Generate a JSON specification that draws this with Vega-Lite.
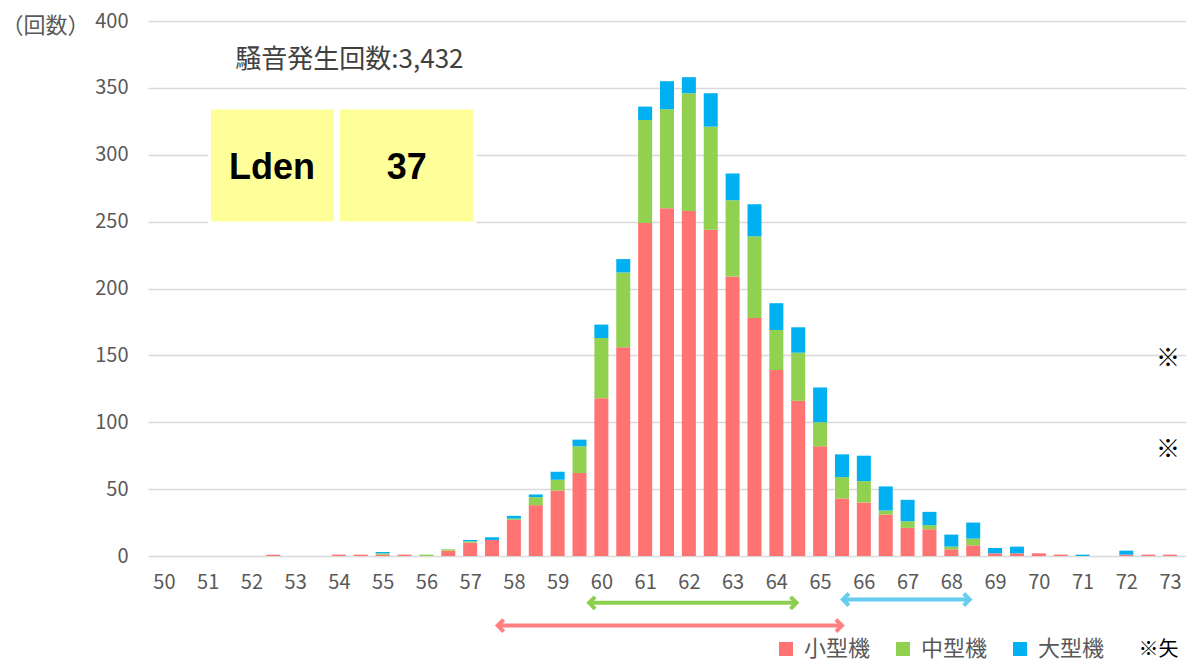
{
  "$schema": "https://vega.github.io/schema/vega-lite/v6.json",
  "width": 1038,
  "height": 535,
  "autosize": "none",
  "padding": {"left": 148, "top": 21, "right": 0, "bottom": 107},
  "background": "white",
  "config": {"view": {"stroke": null}, "font": "Noto Sans CJK JP"},
  "datasets": {
    "bars": [
      {"db": 52.5, "type": "小型機", "n": 1},
      {"db": 54, "type": "小型機", "n": 1},
      {"db": 54.5, "type": "小型機", "n": 1},
      {"db": 55, "type": "小型機", "n": 1},
      {"db": 55, "type": "中型機", "n": 1},
      {"db": 55, "type": "大型機", "n": 1},
      {"db": 55.5, "type": "小型機", "n": 1},
      {"db": 56, "type": "中型機", "n": 1},
      {"db": 56.5, "type": "小型機", "n": 4},
      {"db": 56.5, "type": "中型機", "n": 1},
      {"db": 57, "type": "小型機", "n": 10},
      {"db": 57, "type": "中型機", "n": 1},
      {"db": 57, "type": "大型機", "n": 1},
      {"db": 57.5, "type": "小型機", "n": 12},
      {"db": 57.5, "type": "大型機", "n": 2},
      {"db": 58, "type": "小型機", "n": 27},
      {"db": 58, "type": "中型機", "n": 1},
      {"db": 58, "type": "大型機", "n": 2},
      {"db": 58.5, "type": "小型機", "n": 38},
      {"db": 58.5, "type": "中型機", "n": 6},
      {"db": 58.5, "type": "大型機", "n": 2},
      {"db": 59, "type": "小型機", "n": 49},
      {"db": 59, "type": "中型機", "n": 8},
      {"db": 59, "type": "大型機", "n": 6},
      {"db": 59.5, "type": "小型機", "n": 62},
      {"db": 59.5, "type": "中型機", "n": 20},
      {"db": 59.5, "type": "大型機", "n": 5},
      {"db": 60, "type": "小型機", "n": 118},
      {"db": 60, "type": "中型機", "n": 45},
      {"db": 60, "type": "大型機", "n": 10},
      {"db": 60.5, "type": "小型機", "n": 156},
      {"db": 60.5, "type": "中型機", "n": 56},
      {"db": 60.5, "type": "大型機", "n": 10},
      {"db": 61, "type": "小型機", "n": 249},
      {"db": 61, "type": "中型機", "n": 77},
      {"db": 61, "type": "大型機", "n": 10},
      {"db": 61.5, "type": "小型機", "n": 260},
      {"db": 61.5, "type": "中型機", "n": 74},
      {"db": 61.5, "type": "大型機", "n": 21},
      {"db": 62, "type": "小型機", "n": 258},
      {"db": 62, "type": "中型機", "n": 88},
      {"db": 62, "type": "大型機", "n": 12},
      {"db": 62.5, "type": "小型機", "n": 244},
      {"db": 62.5, "type": "中型機", "n": 77},
      {"db": 62.5, "type": "大型機", "n": 25},
      {"db": 63, "type": "小型機", "n": 209},
      {"db": 63, "type": "中型機", "n": 57},
      {"db": 63, "type": "大型機", "n": 20},
      {"db": 63.5, "type": "小型機", "n": 178},
      {"db": 63.5, "type": "中型機", "n": 61},
      {"db": 63.5, "type": "大型機", "n": 24},
      {"db": 64, "type": "小型機", "n": 139},
      {"db": 64, "type": "中型機", "n": 30},
      {"db": 64, "type": "大型機", "n": 20},
      {"db": 64.5, "type": "小型機", "n": 116},
      {"db": 64.5, "type": "中型機", "n": 36},
      {"db": 64.5, "type": "大型機", "n": 19},
      {"db": 65, "type": "小型機", "n": 82},
      {"db": 65, "type": "中型機", "n": 18},
      {"db": 65, "type": "大型機", "n": 26},
      {"db": 65.5, "type": "小型機", "n": 43},
      {"db": 65.5, "type": "中型機", "n": 16},
      {"db": 65.5, "type": "大型機", "n": 17},
      {"db": 66, "type": "小型機", "n": 40},
      {"db": 66, "type": "中型機", "n": 16},
      {"db": 66, "type": "大型機", "n": 19},
      {"db": 66.5, "type": "小型機", "n": 31},
      {"db": 66.5, "type": "中型機", "n": 3},
      {"db": 66.5, "type": "大型機", "n": 18},
      {"db": 67, "type": "小型機", "n": 21},
      {"db": 67, "type": "中型機", "n": 5},
      {"db": 67, "type": "大型機", "n": 16},
      {"db": 67.5, "type": "小型機", "n": 20},
      {"db": 67.5, "type": "中型機", "n": 3},
      {"db": 67.5, "type": "大型機", "n": 10},
      {"db": 68, "type": "小型機", "n": 5},
      {"db": 68, "type": "中型機", "n": 2},
      {"db": 68, "type": "大型機", "n": 9},
      {"db": 68.5, "type": "小型機", "n": 8},
      {"db": 68.5, "type": "中型機", "n": 5},
      {"db": 68.5, "type": "大型機", "n": 12},
      {"db": 69, "type": "小型機", "n": 2},
      {"db": 69, "type": "大型機", "n": 4},
      {"db": 69.5, "type": "小型機", "n": 2},
      {"db": 69.5, "type": "大型機", "n": 5},
      {"db": 70, "type": "小型機", "n": 2},
      {"db": 70.5, "type": "小型機", "n": 1},
      {"db": 71, "type": "大型機", "n": 1},
      {"db": 72, "type": "小型機", "n": 1},
      {"db": 72, "type": "大型機", "n": 3},
      {"db": 72.5, "type": "小型機", "n": 1},
      {"db": 73, "type": "小型機", "n": 1}
    ],
    "typeOrder": [
      {"type": "小型機", "rank": 0},
      {"type": "中型機", "rank": 1},
      {"type": "大型機", "rank": 2}
    ],
    "boxes": [
      {"label": "Lden", "x1": 51.04, "x2": 53.92, "xc": 52.47, "y1": 249, "y2": 335, "yc": 290},
      {"label": "37", "x1": 53.99, "x2": 57.11, "xc": 55.55, "y1": 249, "y2": 335, "yc": 290}
    ]
  },
  "layer": [
    {
      "data": {"name": "bars"},
      "transform": [
        {"lookup": "type", "from": {"data": {"name": "typeOrder"}, "key": "type", "fields": ["rank"]}}
      ],
      "mark": {"type": "bar", "width": 14},
      "encoding": {
        "x": {
          "field": "db", "type": "quantitative",
          "scale": {"domain": [49.75, 73.25], "nice": false, "zero": false},
          "axis": {
            "values": [50,51,52,53,54,55,56,57,58,59,60,61,62,63,64,65,66,67,68,69,70,71,72,73],
            "format": "d", "title": null, "grid": false, "ticks": false, "domain": false,
            "labelFontSize": 20, "labelColor": "#595959", "labelPadding": 16, "labelFlush": false
          }
        },
        "y": {
          "field": "n", "type": "quantitative", "stack": "zero",
          "scale": {"domain": [0, 400], "nice": false},
          "axis": {
            "values": [0,50,100,150,200,250,300,350,400],
            "title": "（回数）", "titleAngle": 0, "titleX": -147, "titleY": 4,
            "titleAlign": "left", "titleBaseline": "middle", "titleFontWeight": "normal",
            "titleFontSize": 22, "titleColor": "#595959",
            "grid": true, "gridColor": "#D9D9D9", "gridWidth": 1.5,
            "ticks": false, "domain": false, "labelPadding": 20,
            "labelFontSize": 20, "labelColor": "#595959"
          }
        },
        "color": {
          "field": "type", "type": "nominal",
          "scale": {"domain": ["小型機", "中型機", "大型機"], "range": ["#FF7373", "#92D050", "#00B0F0"]},
          "legend": {
            "orient": "none", "legendX": 627, "legendY": 617, "direction": "horizontal",
            "title": null, "symbolType": "square", "symbolSize": 196, "symbolStrokeWidth": 0,
            "labelFontSize": 22, "labelColor": "#595959", "columnPadding": 21, "labelOffset": 7
          }
        },
        "order": {"field": "rank", "type": "quantitative", "sort": "ascending"}
      }
    },
    {
      "data": {"name": "boxes"},
      "mark": {"type": "rect", "fill": "#FFFF99", "stroke": "white", "strokeWidth": 3},
      "encoding": {
        "x": {"field": "x1", "type": "quantitative", "scale": {"domain": [49.75, 73.25], "nice": false, "zero": false}},
        "x2": {"field": "x2"},
        "y": {"field": "y1", "type": "quantitative", "scale": {"domain": [0, 400], "nice": false}},
        "y2": {"field": "y2"}
      }
    },
    {
      "data": {"name": "boxes"},
      "mark": {"type": "text", "font": "Liberation Sans", "fontWeight": "bold", "fontSize": 36, "color": "black", "align": "center", "baseline": "middle"},
      "encoding": {
        "x": {"field": "xc", "type": "quantitative", "scale": {"domain": [49.75, 73.25], "nice": false, "zero": false}},
        "y": {"field": "yc", "type": "quantitative", "scale": {"domain": [0, 400], "nice": false}},
        "text": {"field": "label"}
      }
    },
    {
      "data": {"values": [{"t": "騒音発生回数:3,432", "x": 54.24, "y": 370.8}]},
      "mark": {"type": "text", "fontSize": 26, "color": "#404040", "align": "center", "baseline": "middle"},
      "encoding": {
        "x": {"field": "x", "type": "quantitative", "scale": {"domain": [49.75, 73.25], "nice": false, "zero": false}},
        "y": {"field": "y", "type": "quantitative", "scale": {"domain": [0, 400], "nice": false}},
        "text": {"field": "t"}
      }
    },
    {
      "data": {"values": [{"t": "※", "x": 72.68, "y": 147.5}, {"t": "※", "x": 72.68, "y": 79.5}]},
      "mark": {"type": "text", "fontSize": 24, "color": "black", "align": "left", "baseline": "middle"},
      "encoding": {
        "x": {"field": "x", "type": "quantitative", "scale": {"domain": [49.75, 73.25], "nice": false, "zero": false}},
        "y": {"field": "y", "type": "quantitative", "scale": {"domain": [0, 400], "nice": false}},
        "text": {"field": "t"}
      }
    },
    {
      "data": {"values": [{"t": "※矢", "x": 72.28, "y": -70}]},
      "mark": {"type": "text", "fontSize": 20, "color": "black", "align": "left", "baseline": "middle"},
      "encoding": {
        "x": {"field": "x", "type": "quantitative", "scale": {"domain": [49.75, 73.25], "nice": false, "zero": false}},
        "y": {"field": "y", "type": "quantitative", "scale": {"domain": [0, 400], "nice": false}},
        "text": {"field": "t"}
      }
    },
    {
      "data": {"values": [{"from": 57.63, "to": 65.5, "y": -52}]},
      "layer": [
        {"mark": {"type": "rule", "color": "#FF8080", "strokeWidth": 4},
         "encoding": {
           "x": {"field": "from", "type": "quantitative", "scale": {"domain": [49.75, 73.25], "nice": false, "zero": false}},
           "x2": {"field": "to"},
           "y": {"field": "y", "type": "quantitative", "scale": {"domain": [0, 400], "nice": false}}
         }},
        {"mark": {"type": "point", "shape": "M1,-1L0,0L1,1", "size": 144, "filled": false, "stroke": "#FF8080", "strokeWidth": 4, "opacity": 1},
         "encoding": {
           "x": {"field": "from", "type": "quantitative", "scale": {"domain": [49.75, 73.25], "nice": false, "zero": false}},
           "y": {"field": "y", "type": "quantitative", "scale": {"domain": [0, 400], "nice": false}}
         }},
        {"mark": {"type": "point", "shape": "M1,-1L0,0L1,1", "angle": 180, "size": 144, "filled": false, "stroke": "#FF8080", "strokeWidth": 4, "opacity": 1},
         "encoding": {
           "x": {"field": "to", "type": "quantitative", "scale": {"domain": [49.75, 73.25], "nice": false, "zero": false}},
           "y": {"field": "y", "type": "quantitative", "scale": {"domain": [0, 400], "nice": false}}
         }}
      ]
    },
    {
      "data": {"values": [{"from": 59.72, "to": 64.46, "y": -35}]},
      "layer": [
        {"mark": {"type": "rule", "color": "#8CCF4E", "strokeWidth": 4},
         "encoding": {
           "x": {"field": "from", "type": "quantitative", "scale": {"domain": [49.75, 73.25], "nice": false, "zero": false}},
           "x2": {"field": "to"},
           "y": {"field": "y", "type": "quantitative", "scale": {"domain": [0, 400], "nice": false}}
         }},
        {"mark": {"type": "point", "shape": "M1,-1L0,0L1,1", "size": 144, "filled": false, "stroke": "#8CCF4E", "strokeWidth": 4, "opacity": 1},
         "encoding": {
           "x": {"field": "from", "type": "quantitative", "scale": {"domain": [49.75, 73.25], "nice": false, "zero": false}},
           "y": {"field": "y", "type": "quantitative", "scale": {"domain": [0, 400], "nice": false}}
         }},
        {"mark": {"type": "point", "shape": "M1,-1L0,0L1,1", "angle": 180, "size": 144, "filled": false, "stroke": "#8CCF4E", "strokeWidth": 4, "opacity": 1},
         "encoding": {
           "x": {"field": "to", "type": "quantitative", "scale": {"domain": [49.75, 73.25], "nice": false, "zero": false}},
           "y": {"field": "y", "type": "quantitative", "scale": {"domain": [0, 400], "nice": false}}
         }}
      ]
    },
    {
      "data": {"values": [{"from": 65.52, "to": 68.42, "y": -32.5}]},
      "layer": [
        {"mark": {"type": "rule", "color": "#66CCF0", "strokeWidth": 4},
         "encoding": {
           "x": {"field": "from", "type": "quantitative", "scale": {"domain": [49.75, 73.25], "nice": false, "zero": false}},
           "x2": {"field": "to"},
           "y": {"field": "y", "type": "quantitative", "scale": {"domain": [0, 400], "nice": false}}
         }},
        {"mark": {"type": "point", "shape": "M1,-1L0,0L1,1", "size": 144, "filled": false, "stroke": "#66CCF0", "strokeWidth": 4, "opacity": 1},
         "encoding": {
           "x": {"field": "from", "type": "quantitative", "scale": {"domain": [49.75, 73.25], "nice": false, "zero": false}},
           "y": {"field": "y", "type": "quantitative", "scale": {"domain": [0, 400], "nice": false}}
         }},
        {"mark": {"type": "point", "shape": "M1,-1L0,0L1,1", "angle": 180, "size": 144, "filled": false, "stroke": "#66CCF0", "strokeWidth": 4, "opacity": 1},
         "encoding": {
           "x": {"field": "to", "type": "quantitative", "scale": {"domain": [49.75, 73.25], "nice": false, "zero": false}},
           "y": {"field": "y", "type": "quantitative", "scale": {"domain": [0, 400], "nice": false}}
         }}
      ]
    }
  ]
}
